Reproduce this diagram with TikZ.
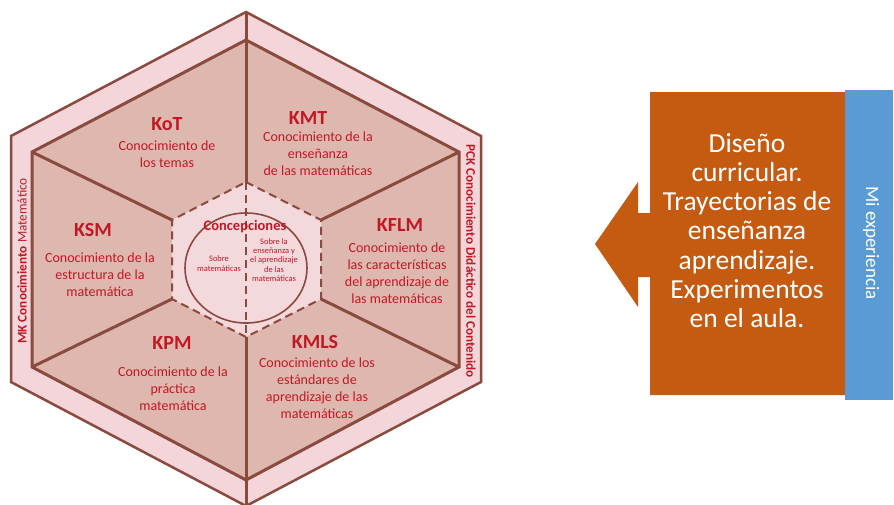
\documentclass[tikz,border=0pt]{standalone}
\usepackage{fontspec}
\setmainfont{Carlito}
\definecolor{bandpink}{RGB}{244,214,218}
\definecolor{innertan}{RGB}{222,184,175}
\definecolor{centerpink}{RGB}{243,216,220}
\definecolor{linebrown}{RGB}{139,74,62}
\definecolor{txtred}{RGB}{192,24,36}
\definecolor{orangec}{RGB}{197,90,17}
\definecolor{bluec}{RGB}{91,155,213}
\tikzset{
  outline/.style={draw=linebrown, line width=2.5pt, line join=miter},
  spoke/.style={draw=linebrown, line width=3pt},
  dashb/.style={draw=linebrown, line width=2pt, dash pattern=on 8pt off 5pt},
  circline/.style={draw=linebrown, line width=1.6pt},
  head/.style={text=txtred, inner sep=0pt, font=\fontsize{20}{24}\selectfont\bfseries},
  body/.style={text=txtred, inner sep=0pt, align=center, font=\fontsize{14}{17}\selectfont},
  ctitle/.style={text=txtred, inner sep=0pt, font=\fontsize{14.5}{17}\selectfont\bfseries},
  tinytxt/.style={text=txtred, inner sep=0pt, align=center, font=\fontsize{8.4}{9.3}\selectfont},
  sidelbl/.style={text=txtred, inner sep=0pt, font=\fontsize{13.2}{16}\selectfont},
  otext/.style={text=white, inner sep=0pt, align=center, font=\fontsize{27.5}{29.2}\selectfont},
  btext/.style={text=white, inner sep=0pt, font=\fontsize{19}{22}\selectfont}
}
\begin{document}
\begin{tikzpicture}[x=1pt,y=-1pt]
\useasboundingbox (0,0) rectangle (894,504);
% outer hexagon
\coordinate (O1) at (246,12);
\coordinate (O2) at (481,136);
\coordinate (O3) at (481,382);
\coordinate (O4) at (246,506);
\coordinate (O5) at (11,382);
\coordinate (O6) at (11,136);
% inner hexagon
\coordinate (I1) at (246,40);
\coordinate (I2) at (459,152);
\coordinate (I3) at (459,367);
\coordinate (I4) at (246,480);
\coordinate (I5) at (32,367);
\coordinate (I6) at (32,152);
% center hexagon
\coordinate (C1) at (246,182);
\coordinate (C2) at (321,220);
\coordinate (C3) at (321,299);
\coordinate (C4) at (246,337);
\coordinate (C5) at (172,299);
\coordinate (C6) at (172,220);
\fill[bandpink] (O1)--(O2)--(O3)--(O4)--(O5)--(O6)--cycle;
\fill[innertan] (I1)--(I2)--(I3)--(I4)--(I5)--(I6)--cycle;
\fill[centerpink] (C1)--(C2)--(C3)--(C4)--(C5)--(C6)--cycle;
\draw[outline] (O1)--(O2)--(O3)--(O4)--(O5)--(O6)--cycle;
\draw[outline, line width=3pt] (I1)--(I2)--(I3)--(I4)--(I5)--(I6)--cycle;
\draw[spoke] (O1)--(C1);
\draw[spoke] (O4)--(C4);
\draw[spoke] (C2)--(I2);
\draw[spoke] (C3)--(I3);
\draw[spoke] (C5)--(I5);
\draw[spoke] (C6)--(I6);
\draw[circline] (246,268) ellipse [x radius=61pt, y radius=55pt];
\draw[dashb] (C1)--(C2)--(C3)--(C4)--(C5)--(C6)--cycle;
\draw[dashb] (C1)--(C4);
% sector texts
\node[head] (kot) at (167,124) {KoT};
\node[body] (kotb) at (167,154.5) {Conocimiento de\\los temas};
\node[head] (kmt) at (308,118) {KMT};
\node[body] (kmtb) at (318,154) {Conocimiento de la\\enseñanza\\de las matemáticas};
\node[head] (ksm) at (93,230) {KSM};
\node[body] (ksmb) at (100,275) {Conocimiento de la\\estructura de la\\matemática};
\node[head] (kflm) at (400,225) {KFLM};
\node[body] (kflmb) at (397,273) {Conocimiento de\\las características\\del aprendizaje de\\las matemáticas};
\node[head] (kpm) at (172,343) {KPM};
\node[body] (kpmb) at (173,388.5) {Conocimiento de la\\práctica\\matemática};
\node[head] (kmls) at (315,342) {KMLS};
\node[body] (kmlsb) at (317,388) {Conocimiento de los\\estándares de\\aprendizaje de las\\matemáticas};
% center texts
\node[ctitle] (conc) at (245,227) {Concepciones};
\node[tinytxt] (sobm) at (219,263.5) {Sobre\\matemáticas};
\node[tinytxt] (sobe) at (274,260) {Sobre la\\enseñanza y\\el aprendizaje\\de las\\matemáticas};
% side labels
\node[sidelbl, rotate=90] (mk) at (22,261) {\textbf{MK Conocimiento} Matemático};
\node[sidelbl, rotate=-90] (pck) at (471,261) {\bfseries PCK Conocimiento Didáctico del Contenido};
% right part
\coordinate (A1) at (650,92);
\coordinate (A2) at (845,92);
\coordinate (A3) at (845,395);
\coordinate (A4) at (650,395);
\coordinate (A5) at (650,277);
\coordinate (A6) at (638,277);
\coordinate (A7) at (638,307);
\coordinate (A8) at (595,244);
\coordinate (A9) at (638,182);
\coordinate (A10) at (638,213);
\coordinate (A11) at (650,213);
\fill[orangec] (A1)--(A2)--(A3)--(A4)--(A5)--(A6)--(A7)--(A8)--(A9)--(A10)--(A11)--cycle;
\fill[bluec] (845,90) rectangle (893,400);
\node[otext] (dis) at (747,230.5) {Diseño\\curricular.\\Trayectorias de\\enseñanza\\aprendizaje.\\Experimentos\\en el aula.};
\node[btext, rotate=-90] (mie) at (871,243) {Mi experiencia};
\end{tikzpicture}
\end{document}
